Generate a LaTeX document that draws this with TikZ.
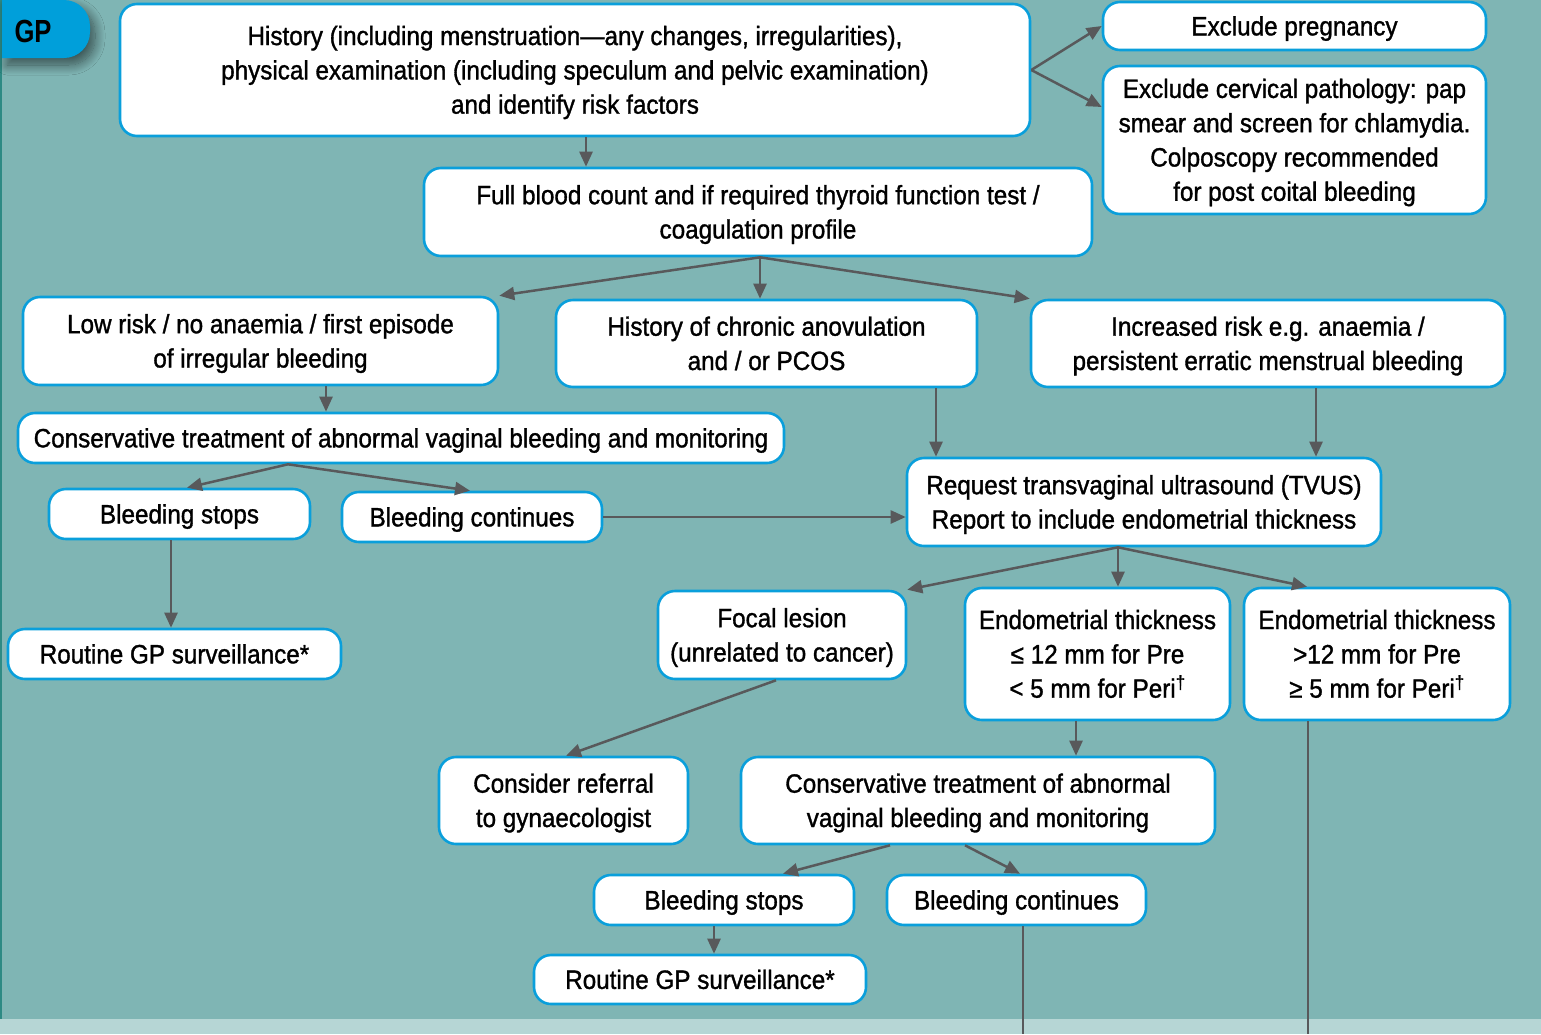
\documentclass[tikz,border=0pt]{standalone}
\usepackage{fontspec}
\setmainfont[FakeStretch=0.915,FakeBold=1.2]{Liberation Sans}
\newfontfamily\gpfont[FakeStretch=0.8]{Liberation Sans Bold}
\usetikzlibrary{arrows.meta,shadows.blur}
\definecolor{bgteal}{HTML}{7FB5B4}
\definecolor{stripc}{HTML}{B6D6D5}
\definecolor{edgec}{HTML}{2E8A84}
\definecolor{boxblue}{HTML}{0A9FDB}
\definecolor{tabblue}{HTML}{009FDA}
\definecolor{arrc}{HTML}{58595B}
\newcommand\bxt[1]{\raisebox{-2.5pt}[\height][\depth]{\begin{tabular}{@{}c@{}}#1\end{tabular}}}
\begin{document}
\begin{tikzpicture}[x=1pt,y=-1pt,
  box/.style={draw=boxblue,line width=2.6pt,fill=white,rounded corners=17pt,
    inner sep=0pt,font=\fontsize{26.5}{34.3}\selectfont},
  arr/.style={draw=arrc,line width=2.5pt,-{Triangle[length=15pt,width=13pt]}},
  ln/.style={draw=arrc,line width=2.5pt}]
\useasboundingbox (0,0) rectangle (1541,1034);
\fill[bgteal] (0,0) rectangle (1541,1034);
\fill[stripc] (0,1019) rectangle (1541,1034);
\fill[edgec] (0,0) rectangle (2,1019);
% GP tab
\fill[tabblue,blur shadow={shadow xshift=5pt,shadow yshift=-7pt,shadow blur steps=14,shadow blur radius=10pt,shadow opacity=55}]
  (2,0) {[rounded corners=26pt] -- (90,0) -- (90,58)} -- (2,58) -- cycle;
\node[font=\gpfont\fontsize{32}{34}\selectfont,inner sep=0pt] (gp) at (33,31) {GP};
% boxes
\node[box,minimum width=910pt,minimum height=132pt] (hist) at (575,70)
  {\bxt{History (including menstruation—any changes, irregularities),\\physical examination (including speculum and pelvic examination)\\and identify risk factors}};
\node[box,minimum width=383pt,minimum height=48pt] (preg) at (1294.5,26) {\bxt{Exclude pregnancy}};
\node[box,minimum width=383pt,minimum height=148pt] (cerv) at (1294.5,140)
  {\bxt{Exclude cervical pathology: pap\\smear and screen for chlamydia.\\Colposcopy recommended\\for post coital bleeding}};
\node[box,minimum width=668pt,minimum height=88pt] (fbc) at (758,212)
  {\bxt{Full blood count and if required thyroid function test /\\coagulation profile}};
\node[box,minimum width=475pt,minimum height=88pt] (low) at (260.5,341)
  {\bxt{Low risk / no anaemia / first episode\\of irregular bleeding}};
\node[box,minimum width=421pt,minimum height=87pt] (chron) at (766.5,343.5)
  {\bxt{History of chronic anovulation\\and / or PCOS}};
\node[box,minimum width=474pt,minimum height=87pt] (incr) at (1268,343.5)
  {\bxt{Increased risk e.g. anaemia /\\persistent erratic menstrual bleeding}};
\node[box,minimum width=766pt,minimum height=50pt] (cons1) at (401,438)
  {\bxt{Conservative treatment of abnormal vaginal bleeding and monitoring}};
\node[box,minimum width=261pt,minimum height=50pt] (bs1) at (179.5,514) {\bxt{Bleeding stops}};
\node[box,minimum width=260pt,minimum height=50pt] (bc1) at (472,517) {\bxt{Bleeding continues}};
\node[box,minimum width=333pt,minimum height=50pt] (rgp1) at (174.5,654) {\bxt{Routine GP surveillance*}};
\node[box,minimum width=474pt,minimum height=88pt] (tvus) at (1144,502)
  {\bxt{Request transvaginal ultrasound (TVUS)\\Report to include endometrial thickness}};
\node[box,minimum width=248pt,minimum height=88pt] (focal) at (782,635)
  {\bxt{Focal lesion\\(unrelated to cancer)}};
\node[box,minimum width=265pt,minimum height=132pt] (endoa) at (1097.5,654)
  {\bxt{Endometrial thickness\\≤ 12 mm for Pre\\< 5 mm for Peri\textsuperscript{†}}};
\node[box,minimum width=266pt,minimum height=132pt] (endob) at (1377,654)
  {\bxt{Endometrial thickness\\>12 mm for Pre\\≥ 5 mm for Peri\textsuperscript{†}}};
\node[box,minimum width=249pt,minimum height=87pt] (ref) at (563.5,800.5)
  {\bxt{Consider referral\\to gynaecologist}};
\node[box,minimum width=474pt,minimum height=87pt] (cons2) at (978,800.5)
  {\bxt{Conservative treatment of abnormal\\vaginal bleeding and monitoring}};
\node[box,minimum width=260pt,minimum height=50pt] (bs2) at (724,900) {\bxt{Bleeding stops}};
\node[box,minimum width=259pt,minimum height=50pt] (bc2) at (1016.5,900) {\bxt{Bleeding continues}};
\node[box,minimum width=332pt,minimum height=49pt] (rgp2) at (700,979.5) {\bxt{Routine GP surveillance*}};
% connectors
\coordinate (fh) at (hist.east);
\draw[arr] (fh) -- (preg.west);
\draw[arr] (fh) -- (cerv.west |- 0,107);
\draw[arr] (586,0 |- hist.south) -- (586,0 |- fbc.north);
\coordinate (f1) at (760,0 |- fbc.south);
\draw[arr] (f1) -- (low.north east);
\draw[arr] (f1) -- (760,0 |- chron.north);
\draw[arr] (f1) -- (incr.north west);
\draw[arr] (326,0 |- low.south) -- (326,0 |- cons1.north);
\coordinate (f2) at (288,0 |- cons1.south);
\draw[arr] (f2) -- (187,0 |- bs1.north);
\draw[arr] (f2) -- (470,0 |- bc1.north);
\draw[arr] (171,0 |- bs1.south) -- (171,0 |- rgp1.north);
\draw[arr] (bc1.east) -- (bc1.east -| tvus.west);
\draw[arr] (936,0 |- chron.south) -- (936,0 |- tvus.north);
\draw[arr] (1316,0 |- incr.south) -- (1316,0 |- tvus.north);
\coordinate (f3) at (1118,0 |- tvus.south);
\draw[arr] (f3) -- (focal.north east);
\draw[arr] (f3) -- (1118,0 |- endoa.north);
\draw[arr] (f3) -- (1307,0 |- endob.north);
\draw[arr] (776,0 |- focal.south) -- (566,0 |- ref.north);
\draw[arr] (1076,0 |- endoa.south) -- (1076,0 |- cons2.north);
\draw[arr] (890,0 |- cons2.south) -- (783,0 |- bs2.north);
\draw[arr] (965,0 |- cons2.south) -- (1020,0 |- bc2.north);
\draw[arr] (714,0 |- bs2.south) -- (714,0 |- rgp2.north);
\coordinate (e1) at (1023,1034);
\coordinate (e2) at (1308,1034);
\draw[ln] (1023,0 |- bc2.south) -- (e1);
\draw[ln] (1308,0 |- endob.south) -- (e2);
\end{tikzpicture}
\end{document}
